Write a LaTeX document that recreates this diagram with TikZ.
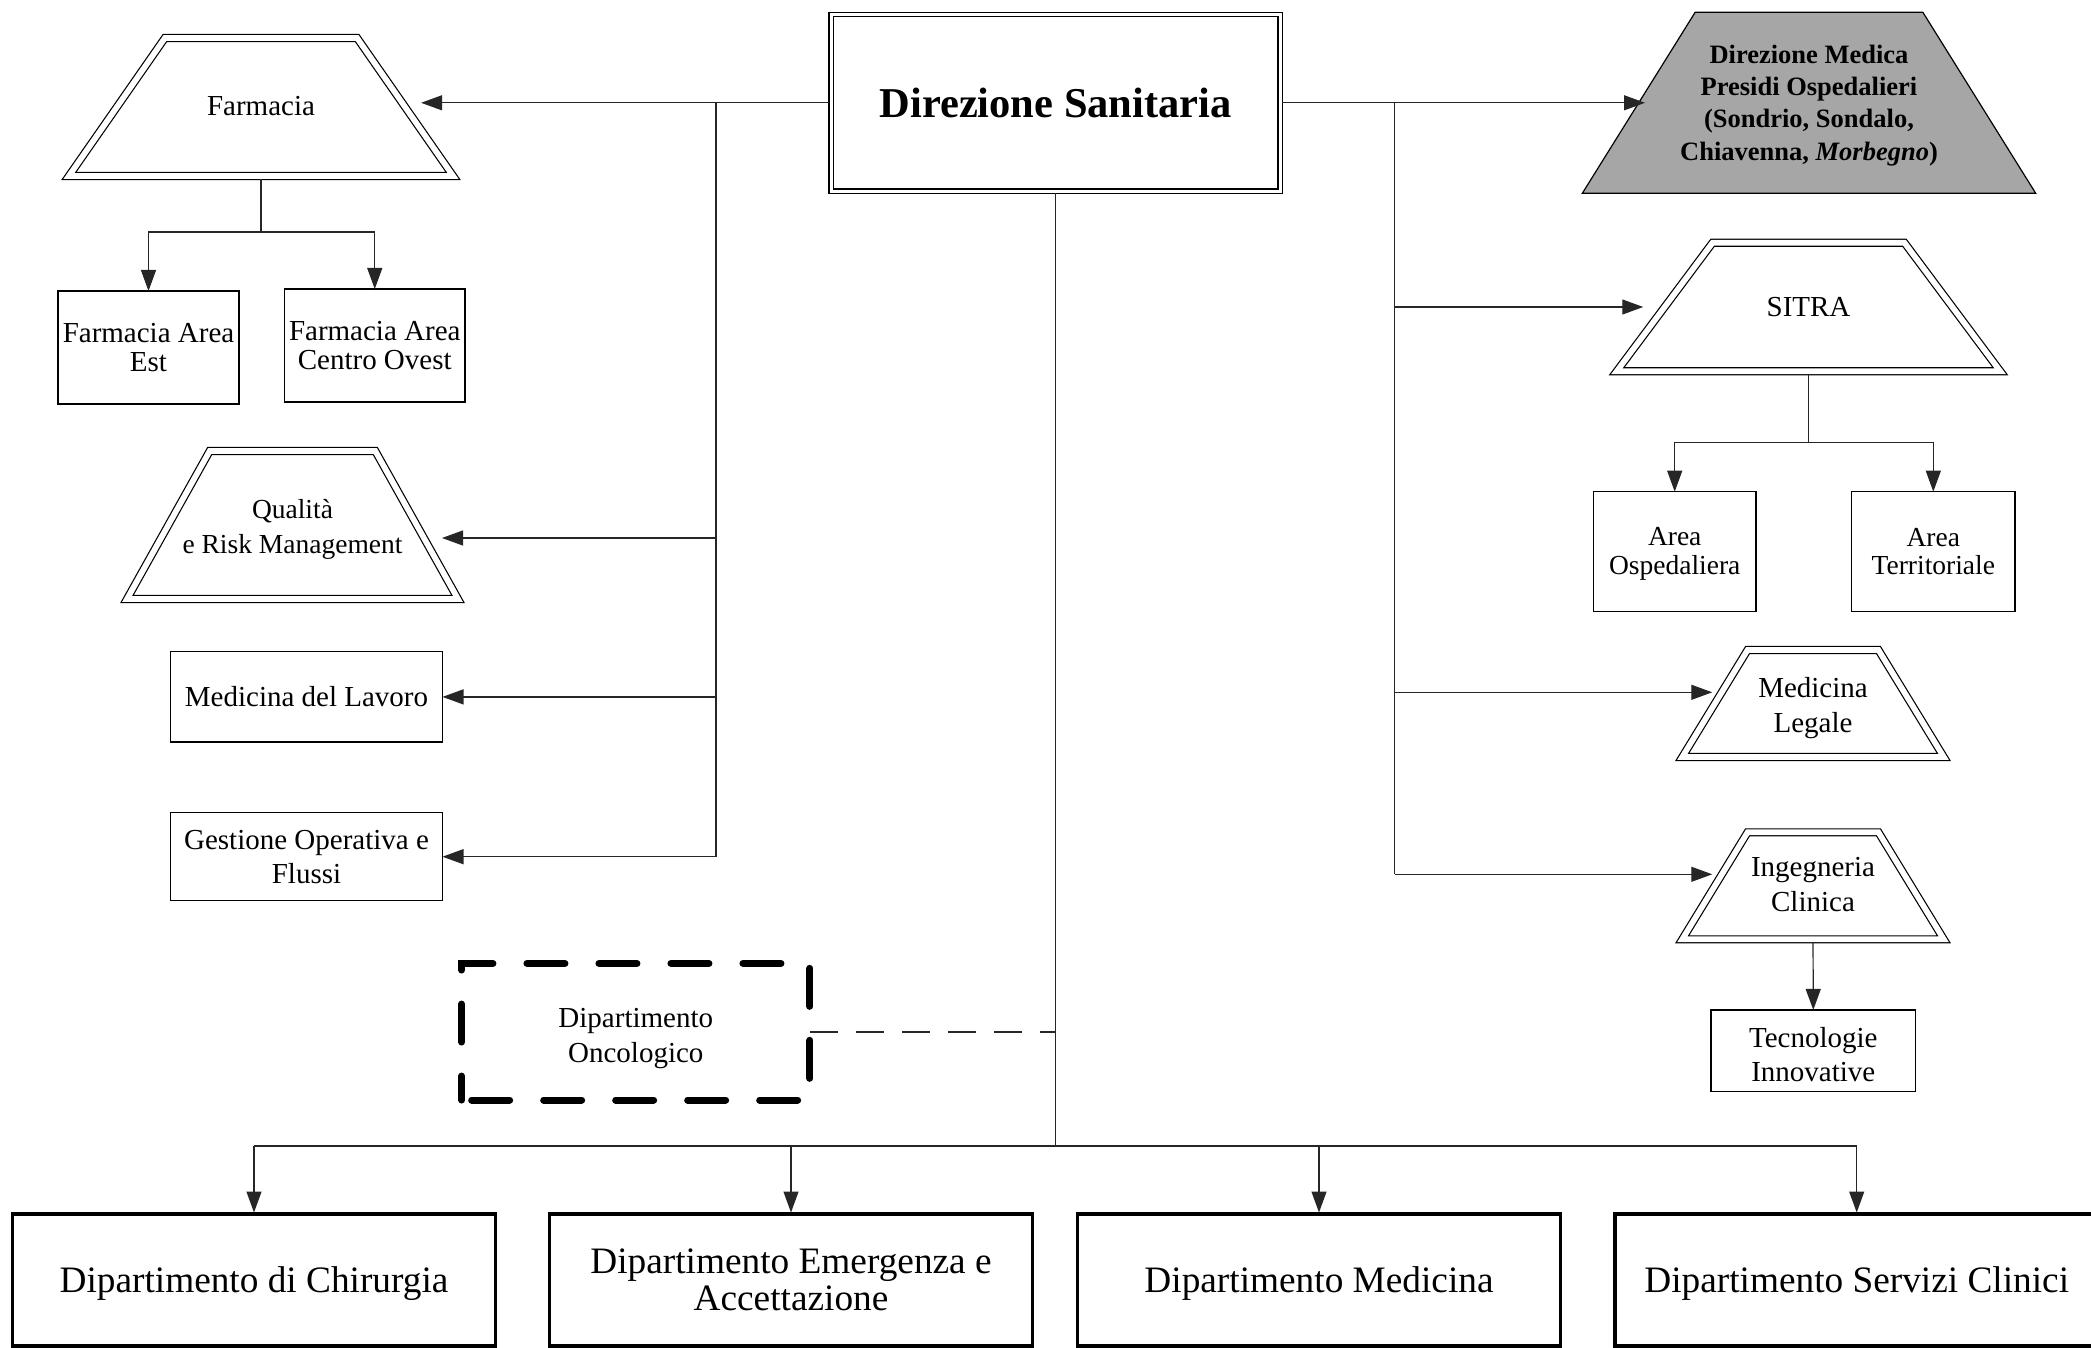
\documentclass[tikz,border=0pt]{standalone}
\usepackage{fontspec}
\setmainfont{Liberation Serif}
\usetikzlibrary{arrows.meta}

\definecolor{dmgray}{RGB}{166,166,166}
\pgfdeclarelayer{bg}
\pgfsetlayers{bg,main}
\newcommand{\fsz}[2]{\fontsize{#1}{#2}\selectfont}
% trapezoid outline around a node: style, node name, inset of the top corners
\newcommand{\trapath}[3]{\draw[#1] (#2.south west) -- ([xshift=#3]#2.north west)
  -- ([xshift=-#3]#2.north east) -- (#2.south east) -- cycle;}
% centred lines lowered by #1 without changing their box
\newcommand{\ltab}[2]{\raisebox{-#1}[\height][\depth]{\begin{tabular}{@{}c@{}}#2\end{tabular}}}

\begin{document}
\begin{tikzpicture}[x=1pt,y=-1pt,
  every node/.style={inner sep=0pt,outer sep=0pt},
  conn/.style={line width=1.2pt,draw=black!85},
  arr/.style={conn,-{Triangle[length=21pt,width=15pt]}},
  odash/.style={line width=2pt,draw=black!85,dash pattern=on 28pt off 18pt},
  rbox/.style={draw,rectangle,line width=1.2pt,align=center,fill=white},
  deptbox/.style={draw,rectangle,line width=3.5pt,align=center,fill=white,
    minimum width=483.4pt,minimum height=132pt,font=\fsz{37.3}{37.4}},
  tzbox/.style={rectangle,align=center},
  dtrap/.style={draw=black,double=white,double distance=5.7pt,line width=1.2pt,
    line join=miter},
  dmtrap/.style={draw=black,fill=dmgray,line width=1.2pt,line join=miter},
  ttxt/.style={font=\fsz{29}{#1}},
]
\useasboundingbox (0,0) rectangle (2091,1348);
\clip (0,0) rectangle (2091,1348);

% ---- top level
\node[rbox,double,double distance=3pt,line width=1.3pt,
  minimum width=448.8pt,minimum height=176.7pt,
  font=\bfseries\fsz{42.5}{46}] (ds) at (1055.6,102.8) {Direzione Sanitaria};

% ---- left column
\node[tzbox,minimum width=384.2pt,minimum height=138pt,ttxt=34.5]
  (farm) at (261,107) {\ltab{1.5pt}{Farmacia}};
\node[rbox,minimum width=181pt,minimum height=113pt,ttxt=29.3]
  (fest) at (148.5,347.5) {Farmacia Area\\Est};
\node[rbox,minimum width=180.5pt,minimum height=113pt,ttxt=29.3]
  (fco) at (374.75,345.5) {Farmacia Area\\Centro Ovest};
\node[tzbox,minimum width=331pt,minimum height=148pt,font=\fsz{27.5}{35}]
  (qual) at (292.5,525) {\ltab{4pt}{Qualità\\e Risk Management}};
\node[rbox,minimum width=272pt,minimum height=90.3pt,ttxt=34.5]
  (mlav) at (306.5,696.9) {Medicina del Lavoro};
\node[rbox,minimum width=272pt,minimum height=88pt,ttxt=34.3]
  (gest) at (306.5,856.7) {Gestione Operativa e\\Flussi};
\node[draw,rectangle,line width=7pt,line cap=round,
  dash pattern=on 38pt off 34pt,dash phase=62pt,
  minimum width=348.3pt,minimum height=136.7pt,ttxt=35]
  (onco) at (635.8,1031.7) {\ltab{6pt}{Dipartimento\\Oncologico}};

% ---- right column
\node[tzbox,minimum width=453.4pt,minimum height=181pt,
  font=\bfseries\fsz{26.5}{32.2}] (dm) at (1809,102.8)
  {\ltab{2.5pt}{Direzione Medica\\Presidi Ospedalieri\\(Sondrio, Sondalo,\\Chiavenna, \textit{Morbegno})}};
\node[tzbox,minimum width=383.5pt,minimum height=128.5pt,ttxt=34.5]
  (sitra) at (1808.5,307) {SITRA};
\node[rbox,minimum width=162.7pt,minimum height=120pt,font=\fsz{27.5}{28.3}]
  (aosp) at (1674.7,551.7) {\ltab{2.5pt}{Area\\Ospedaliera}};
\node[rbox,minimum width=163.3pt,minimum height=120pt,font=\fsz{27.5}{28.3}]
  (ater) at (1933.3,551.7) {Area\\Territoriale};
\node[tzbox,minimum width=261.5pt,minimum height=107pt,ttxt=35]
  (mleg) at (1813,703.5) {\ltab{4pt}{Medicina\\Legale}};
\node[tzbox,minimum width=261.5pt,minimum height=107pt,ttxt=35]
  (inge) at (1813,885.8) {\ltab{1.5pt}{Ingegneria\\Clinica}};
\node[rbox,minimum width=204.7pt,minimum height=81.7pt,ttxt=34]
  (tecn) at (1813.3,1050.8) {\ltab{7pt}{Tecnologie\\Innovative}};

% ---- departments
\node[deptbox] (chir) at (254,1280) {\ltab{5pt}{Dipartimento di Chirurgia}};
\node[deptbox] (emer) at (791,1280) {Dipartimento Emergenza e\\Accettazione};
\node[deptbox] (medi) at (1319,1280) {\ltab{5pt}{Dipartimento Medicina}};
\node[deptbox] (serv) at (1856.7,1280) {\ltab{5pt}{Dipartimento Servizi Clinici}};

% ---- trapezoid outlines, behind the texts
\begin{pgfonlayer}{bg}
  \trapath{dtrap}{farm}{96pt}
  \trapath{dtrap}{qual}{82.7pt}
  \trapath{dmtrap}{dm}{112.85pt}
  \trapath{dtrap}{sitra}{95.8pt}
  \trapath{dtrap}{mleg}{65.3pt}
  \trapath{dtrap}{inge}{65.3pt}
\end{pgfonlayer}

% ---- junction points
\coordinate (tl) at (716,102.8);
\coordinate (jq) at (716,538);
\coordinate (tr) at (1394.5,102.8);
\coordinate (jl) at (1394.5,692.3);
\coordinate (ji) at (1394.5,874.3);
\coordinate (fb) at (261,232);
\path (sitra.south) ++(0,71) coordinate (sb);
\coordinate (cb) at (1055.6,1146);

% ---- left connectors
\draw[arr,shorten <=2.2pt,shorten >=-32pt] (ds.west) -- (farm.east |- ds.west);
\draw[conn] (tl) -- (tl |- gest.east);
\draw[arr,shorten >=-16pt] (jq) -- (qual.east |- jq);
\draw[arr] (tl |- mlav.east) -- (mlav.east);
\draw[arr] (tl |- gest.east) -- (gest.east);
\draw[conn,shorten <=3.5pt] (farm.south) -- (fb);
\draw[arr] (fb) -| (fest.north);
\draw[arr] (fb) -| (fco.north);

% ---- right connectors
\draw[arr,shorten <=2.2pt,shorten >=-62.7pt] (ds.east) -- (dm.west |- ds.east);
\draw[conn] (tr) -- (ji);
\draw[arr,shorten >=-26.5pt] (tr |- sitra.west) -- (sitra.west);
\draw[conn,shorten <=3.5pt] (sitra.south) -- (sb);
\draw[arr] (sb) -| (aosp.north);
\draw[arr] (sb) -| (ater.north);
\draw[arr,shorten >=-30pt] (jl) -- (mleg.west |- jl);
\draw[arr,shorten >=-30pt] (ji) -- (inge.west |- ji);
\draw[arr,shorten <=3.5pt] (inge.south) -- (tecn.north);

% ---- central trunk and departments bus
\draw[conn,shorten <=2.2pt] (ds.south) -- (cb);
\draw[conn] (chir.north |- cb) -- (serv.north |- cb);
\foreach \d in {chir,emer,medi,serv}
  \draw[arr,shorten >=1.5pt] (\d.north |- cb) -- (\d.north);
\draw[odash] (onco.east) -- (cb |- onco.east);
\end{tikzpicture}
\end{document}
